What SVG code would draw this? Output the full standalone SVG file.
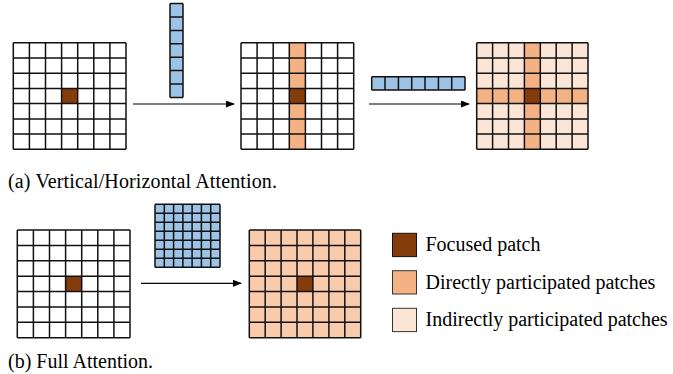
<svg xmlns="http://www.w3.org/2000/svg" width="673" height="374" viewBox="0 0 673 374">
<style>
.g{fill:none;stroke:#111;stroke-width:1.5}
.bl{fill:#9DC3E6}
.fc{fill:#843C0C}
.dp{fill:#F4B183}
.ip{fill:#FBE5D6}
.fa{fill:#F8CBAD}
.wh{fill:#fff}
.t{font-family:"Liberation Serif","Times New Roman","DejaVu Serif",serif;font-size:20px;fill:#000}
.ar{stroke:#000;stroke-width:1.2;fill:none}
</style>
<defs>
<marker id="ah" markerUnits="userSpaceOnUse" markerWidth="9" markerHeight="7" refX="8" refY="3.5" orient="auto">
<path d="M0,0 L9,3.5 L0,7 z" fill="#000"/>
</marker>
</defs>
<g id="grid-a1">
<rect class="wh" x="13.3" y="42.7" width="112.7" height="106.6"/>
<rect class="fc" x="61.6" y="88.4" width="16.1" height="15.2"/>
<path class="g" d="M13.3,42.7V149.3M29.4,42.7V149.3M45.5,42.7V149.3M61.6,42.7V149.3M77.7,42.7V149.3M93.8,42.7V149.3M109.9,42.7V149.3M126,42.7V149.3M13.3,42.7H126M13.3,57.9H126M13.3,73.2H126M13.3,88.4H126M13.3,103.6H126M13.3,118.9H126M13.3,134.1H126M13.3,149.3H126"/>
</g>
<g id="strip-v">
<rect class="bl" x="170" y="3.5" width="13" height="94"/>
<path class="g" d="M170,3.5V97.5M183,3.5V97.5M170,3.5H183M170,16.9H183M170,30.4H183M170,43.8H183M170,57.2H183M170,70.6H183M170,84.1H183M170,97.5H183"/>
</g>
<g id="grid-a2">
<rect class="wh" x="241" y="42.7" width="112.7" height="106.6"/>
<rect class="dp" x="289.3" y="42.7" width="16.1" height="106.6"/>
<rect class="fc" x="289.3" y="88.4" width="16.1" height="15.2"/>
<path class="g" d="M241,42.7V149.3M257.1,42.7V149.3M273.2,42.7V149.3M289.3,42.7V149.3M305.4,42.7V149.3M321.5,42.7V149.3M337.6,42.7V149.3M353.7,42.7V149.3M241,42.7H353.7M241,57.9H353.7M241,73.2H353.7M241,88.4H353.7M241,103.6H353.7M241,118.9H353.7M241,134.1H353.7M241,149.3H353.7"/>
</g>
<g id="strip-h">
<rect class="bl" x="371.7" y="76.7" width="93.3" height="13.3"/>
<path class="g" d="M371.7,76.7H465M371.7,90H465M371.7,76.7V90M385,76.7V90M398.4,76.7V90M411.7,76.7V90M425,76.7V90M438.4,76.7V90M451.7,76.7V90M465,76.7V90"/>
</g>
<g id="grid-a3">
<rect class="ip" x="476.7" y="42.7" width="111.3" height="106.6"/>
<rect class="dp" x="524.4" y="42.7" width="15.9" height="106.6"/>
<rect class="dp" x="476.7" y="88.4" width="111.3" height="15.2"/>
<rect class="fc" x="524.4" y="88.4" width="15.9" height="15.2"/>
<path class="g" d="M476.7,42.7V149.3M492.6,42.7V149.3M508.5,42.7V149.3M524.4,42.7V149.3M540.3,42.7V149.3M556.2,42.7V149.3M572.1,42.7V149.3M588,42.7V149.3M476.7,42.7H588M476.7,57.9H588M476.7,73.2H588M476.7,88.4H588M476.7,103.6H588M476.7,118.9H588M476.7,134.1H588M476.7,149.3H588"/>
</g>
<g id="grid-b1">
<rect class="wh" x="17.3" y="230" width="112.7" height="107.7"/>
<rect class="fc" x="65.6" y="276.2" width="16.1" height="15.4"/>
<path class="g" d="M17.3,230V337.7M33.4,230V337.7M49.5,230V337.7M65.6,230V337.7M81.7,230V337.7M97.8,230V337.7M113.9,230V337.7M130,230V337.7M17.3,230H130M17.3,245.4H130M17.3,260.8H130M17.3,276.2H130M17.3,291.6H130M17.3,307H130M17.3,322.3H130M17.3,337.7H130"/>
</g>
<g id="block-b">
<rect class="bl" x="155" y="204.3" width="65" height="63"/>
<path class="g" d="M155,204.3V267.3M164.3,204.3V267.3M173.6,204.3V267.3M182.9,204.3V267.3M192.1,204.3V267.3M201.4,204.3V267.3M210.7,204.3V267.3M220,204.3V267.3M155,204.3H220M155,213.3H220M155,222.3H220M155,231.3H220M155,240.3H220M155,249.3H220M155,258.3H220M155,267.3H220"/>
</g>
<g id="grid-b2">
<rect class="fa" x="249.3" y="230" width="111.4" height="107.7"/>
<rect class="fc" x="297" y="276.2" width="15.9" height="15.4"/>
<path class="g" d="M249.3,230V337.7M265.2,230V337.7M281.1,230V337.7M297,230V337.7M312.9,230V337.7M328.9,230V337.7M344.8,230V337.7M360.7,230V337.7M249.3,230H360.7M249.3,245.4H360.7M249.3,260.8H360.7M249.3,276.2H360.7M249.3,291.6H360.7M249.3,307H360.7M249.3,322.3H360.7M249.3,337.7H360.7"/>
</g>
<g id="connectors">
<line class="ar" x1="133" y1="104" x2="234" y2="104" marker-end="url(#ah)"/>
<line class="ar" x1="369" y1="104" x2="469" y2="104" marker-end="url(#ah)"/>
<line class="ar" x1="141" y1="283.3" x2="241" y2="283.3" marker-end="url(#ah)"/>
</g>
<g id="legend">
<rect class="fc" x="392.5" y="233.3" width="24" height="23.3" stroke="#111" stroke-width="1"/>
<rect class="dp" x="392.5" y="270.7" width="24" height="23.3" stroke="#333" stroke-width="1"/>
<rect class="ip" x="392.5" y="308.3" width="24" height="23.3" stroke="#333" stroke-width="1"/>
<text class="t" x="425.5" y="251.2">Focused patch</text>
<text class="t" x="425.5" y="288.8">Directly participated patches</text>
<text class="t" x="425.5" y="326.3">Indirectly participated patches</text>
</g>
<text class="t" x="8" y="188" textLength="269" lengthAdjust="spacing">(a) Vertical/Horizontal Attention.</text>
<text class="t" x="8" y="368">(b) Full Attention.</text>
</svg>
